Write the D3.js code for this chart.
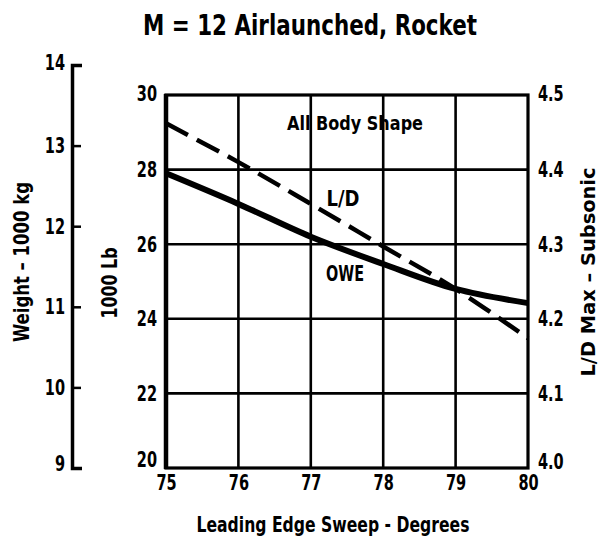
<!DOCTYPE html>
<html>
<head>
<meta charset="utf-8">
<script src="https://cdn.jsdelivr.net/npm/d3@7"></script>
<style>
  html, body { margin: 0; padding: 0; background: #fff; }
  svg { display: block; }
  text { font-family: "DejaVu Sans", "Liberation Sans", sans-serif; font-weight: bold; fill: #000; }
</style>
</head>
<body>
<svg id="chart" width="601" height="542"></svg>
<script>
// ---- data ----
const sweepDeg = [75, 76, 77, 78, 79, 80];
const oweKlb   = [27.9, 27.08, 26.2, 25.47, 24.8, 24.42];   // 1000 lb (left axis)
const ldMax    = [4.462, 4.41, 4.354, 4.297, 4.24, 4.174];  // L/D max subsonic (right axis)

const xTicks   = [75, 76, 77, 78, 79, 80];
const lbTicks  = [20, 22, 24, 26, 28, 30];
const ldTicks  = [4.0, 4.1, 4.2, 4.3, 4.4, 4.5];
const kgTicks  = [9, 10, 11, 12, 13, 14];

const title      = "M = 12 Airlaunched, Rocket";
const xTitle     = "Leading Edge Sweep - Degrees";
const kgTitle    = "Weight – 1000 kg";
const lbTitle    = "1000 Lb";
const ldTitle    = "L/D Max – Subsonic";
const noteText   = "All Body Shape";
const ldLabel    = "L/D";
const oweLabel   = "OWE";

// ---- layout ----
const svg = d3.select("#chart");
const L = 166, R = 528, T = 95, B = 468;

const x   = d3.scaleLinear().domain([75, 80]).range([L, R]);
const yLb = d3.scaleLinear().domain([20, 30]).range([B, T]);
const yLD = d3.scaleLinear().domain([4.0, 4.5]).range([B, T]);
const yKg = d3.scaleLinear().domain([9, 14]).range([468, 65]);

// condense text horizontally (no condensed fonts installed)
function condense(sel, factor) {
  sel.each(function () {
    const w = this.getComputedTextLength();
    d3.select(this).attr("textLength", w * factor).attr("lengthAdjust", "spacingAndGlyphs");
  });
}
function fitText(sel, len) {
  sel.attr("textLength", len).attr("lengthAdjust", "spacingAndGlyphs");
}

// grid
const grid = svg.append("g").attr("stroke", "#000").attr("stroke-width", 2.6);
grid.selectAll("line.v").data(xTicks.slice(1, -1)).join("line")
  .attr("x1", d => x(d)).attr("x2", d => x(d)).attr("y1", T).attr("y2", B);
grid.selectAll("line.h").data(lbTicks.slice(1, -1)).join("line")
  .attr("x1", L).attr("x2", R).attr("y1", d => yLb(d)).attr("y2", d => yLb(d));

// frame
svg.append("rect").attr("x", L).attr("y", T).attr("width", R - L).attr("height", B - T)
  .attr("fill", "none").attr("stroke", "#000").attr("stroke-width", 3.2);
svg.append("line").attr("x1", L).attr("x2", L).attr("y1", T - 1).attr("y2", B + 1)
  .attr("stroke", "#000").attr("stroke-width", 4.5);

// axes (labels)
function styleAxis(g) {
  g.select(".domain").remove();
  g.selectAll("text").attr("font-size", 22).attr("font-family", null).style("font-weight", "bold")
    .call(condense, 0.66);
}
svg.append("g").attr("transform", `translate(${L},0)`)
  .call(d3.axisLeft(yLb).tickValues(lbTicks).tickSize(0).tickPadding(9).tickFormat(d3.format("d")))
  .call(styleAxis)
  .call(g => g.selectAll(".tick text").filter(d => d === 20).attr("dy", "-0.05em"))
  .call(g => g.selectAll(".tick text").filter(d => d === 30).attr("dy", "0.25em"));
svg.append("g").attr("transform", `translate(${R},0)`)
  .call(d3.axisRight(yLD).tickValues(ldTicks).tickSize(0).tickPadding(10).tickFormat(d3.format(".1f")))
  .call(styleAxis)
  .call(g => g.selectAll(".tick text").filter(d => d === 4.0).attr("dy", "0.02em"))
  .call(g => g.selectAll(".tick text").filter(d => d === 4.5).attr("dy", "0.25em"));
svg.append("g").attr("transform", `translate(0,${B})`)
  .call(d3.axisBottom(x).tickValues(xTicks).tickSize(0).tickPadding(6).tickFormat(d3.format("d")))
  .call(styleAxis);

// weight (kg) axis with bracket
const kgAxis = svg.append("g").attr("transform", "translate(72,0)")
  .call(d3.axisLeft(yKg).tickValues(kgTicks).tickSizeInner(-9).tickSizeOuter(-10).tickPadding(7).tickFormat(d3.format("d")));
kgAxis.select(".domain").attr("stroke-width", 3.5).attr("stroke", "#000");
kgAxis.selectAll(".tick line").attr("stroke-width", 2.5).attr("stroke", "#000")
  .filter(d => d === 9 || d === 14).remove();
kgAxis.selectAll("text").attr("font-size", 22).attr("font-family", null).style("font-weight", "bold")
  .call(condense, 0.66);
kgAxis.selectAll(".tick text").filter(d => d === 14).attr("dy", "0.22em");
kgAxis.selectAll(".tick text").filter(d => d === 9).attr("dy", "0.1em");

// curves
const lineOwe = d3.line().x((d, i) => x(sweepDeg[i])).y(d => yLb(d)).curve(d3.curveCatmullRom);
const lineLD  = d3.line().x((d, i) => x(sweepDeg[i])).y(d => yLD(d)).curve(d3.curveCatmullRom);
svg.append("path").datum(ldMax).attr("d", lineLD)
  .attr("fill", "none").attr("stroke", "#000").attr("stroke-width", 4.5)
  .attr("stroke-dasharray", "25,10");
svg.append("path").datum(oweKlb).attr("d", lineOwe)
  .attr("fill", "none").attr("stroke", "#000").attr("stroke-width", 6);

// texts
svg.append("text").attr("x", 310).attr("y", 35).attr("text-anchor", "middle")
  .attr("font-size", 28).text(title).call(fitText, 334);
svg.append("text").attr("x", 333).attr("y", 532).attr("text-anchor", "middle")
  .attr("font-size", 21).text(xTitle).call(fitText, 273);
svg.append("text").attr("transform", "translate(29,262) rotate(-90)").attr("text-anchor", "middle")
  .attr("font-size", 21).text(kgTitle).call(fitText, 160);
svg.append("text").attr("transform", "translate(117,283) rotate(-90)").attr("text-anchor", "middle")
  .attr("font-size", 21).text(lbTitle).call(fitText, 71);
svg.append("text").attr("transform", "translate(595,272) rotate(-90)").attr("text-anchor", "middle")
  .attr("font-size", 20).text(ldTitle).call(fitText, 209);
svg.append("text").attr("x", 355).attr("y", 130).attr("text-anchor", "middle")
  .attr("font-size", 19).text(noteText).call(fitText, 136);
svg.append("text").attr("x", 343).attr("y", 206).attr("text-anchor", "middle")
  .attr("font-size", 22).text(ldLabel).call(fitText, 33);
svg.append("text").attr("x", 345).attr("y", 281).attr("text-anchor", "middle")
  .attr("font-size", 22).text(oweLabel).call(fitText, 38);
</script>
</body>
</html>
